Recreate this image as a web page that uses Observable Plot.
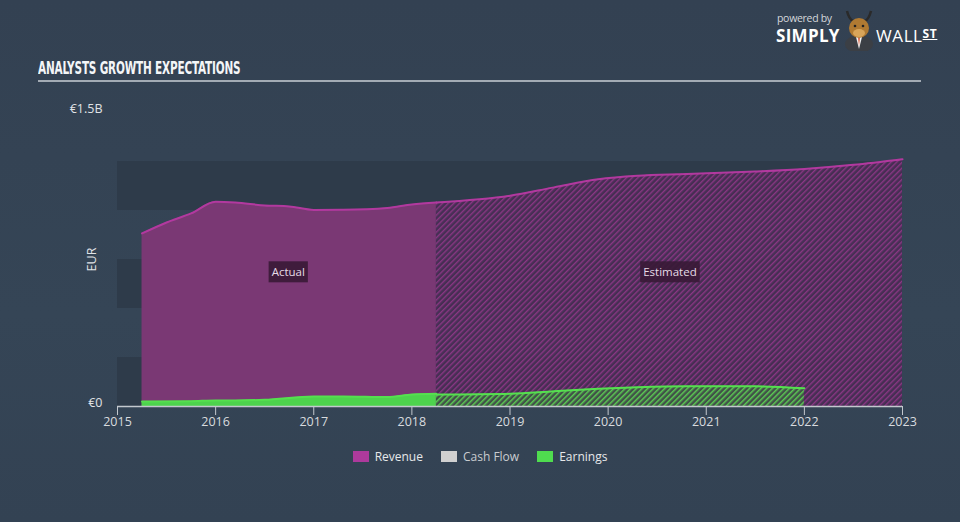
<!DOCTYPE html>
<html>
<head>
<meta charset="utf-8">
<script src="https://cdn.jsdelivr.net/npm/d3@7"></script>
<script src="https://cdn.jsdelivr.net/npm/@observablehq/plot@0.6"></script>
<style>
  html, body { margin: 0; padding: 0; background: #344354; }
  #wrap { position: relative; width: 960px; height: 522px; overflow: hidden;
          background: linear-gradient(180deg, #334152 0%, #354556 60%, #334253 100%);
          font-family: "Open Sans", "DejaVu Sans", sans-serif; }
  #title { position: absolute; left: 38px; top: 57px; color: #f4f6f8; white-space: nowrap;
           font-family: "DejaVu Sans Condensed", "Liberation Sans Narrow", sans-serif;
           font-weight: bold; font-size: 18.5px; letter-spacing: -0.3px; transform: scaleX(0.63); transform-origin: left center; }
  #rule { position: absolute; left: 38px; top: 80px; width: 883px; height: 2px; background: #a3abb4; }
  #chart { position: absolute; left: 0; top: 0; }
  #legend { position: absolute; top: 448px; left: 0; width: 960px; display: flex; justify-content: center;
            gap: 0; font-size: 12px; color: #e6e8ea; }
  .item { display: flex; align-items: center; margin: 0 9px; }
  .sw { width: 16px; height: 11px; margin-right: 6px; }
  #logo { position: absolute; left: 770px; top: 6px; width: 185px; height: 44px; color: #fff; }
  #logo .pb { position: absolute; left: 7px; top: 5px; font-size: 10.5px; color: #d5d8dc; letter-spacing: -0.3px; }
  #logo .s { position: absolute; left: 6px; top: 18px; font-size: 17px; font-weight: bold; letter-spacing: 0.3px; }
  #logo .w { position: absolute; left: 106px; top: 18px; font-size: 17px; letter-spacing: 0.6px; }
  #logo .st { text-decoration: underline; font-size: 12px; font-weight: bold; vertical-align: 4px; }
</style>
</head>
<body>
<div id="wrap">
  <div id="title">ANALYSTS GROWTH EXPECTATIONS</div>
  <div id="rule"></div>
  <div id="logo">
    <div class="pb">powered by</div>
    <div class="s">SIMPLY</div>
    <svg style="position:absolute;left:73px;top:3px" width="32" height="42" viewBox="0 0 32 42">
      <path d="M4 2 Q6 10 10 12 M28 2 Q26 10 22 12" stroke="#2a2a2a" stroke-width="2.5" fill="none"/>
      <ellipse cx="16" cy="35" rx="14" ry="9" fill="#3b3f45"/>
      <path d="M13 28 L16 40 L19 28 Z" fill="#f2f2f2"/>
      <path d="M15.2 29 L16 37 L16.8 29 Z" fill="#d9461e"/>
      <ellipse cx="16" cy="19" rx="10" ry="10" fill="#b07a32"/>
      <ellipse cx="16" cy="24" rx="6" ry="4" fill="#d9a55a"/>
      <circle cx="12" cy="17" r="1.3" fill="#222"/><circle cx="20" cy="17" r="1.3" fill="#222"/>
    </svg>
    <div class="w">WALL<span class="st">ST</span></div>
  </div>
  <div id="chart"></div>
  <div id="legend">
    <div class="item"><div class="sw" style="background:#ad3a9c"></div>Revenue</div>
    <div class="item" style="color:#c9ccd0"><div class="sw" style="background:#d0d0d0"></div>Cash Flow</div>
    <div class="item"><div class="sw" style="background:#4fdc4f"></div>Earnings</div>
  </div>
</div>
<script>
// ---- data (EUR billions) ----
const xTicks = [2015, 2016, 2017, 2018, 2019, 2020, 2021, 2022, 2023];
const yTicks = [0, 1.5];
const bandEdges = [0, 0.25, 0.5, 0.75, 1.0, 1.25];

const revenueActualYears = [2015.25, 2015.5, 2015.75, 2016.0, 2016.2, 2016.5, 2016.75, 2017.0, 2017.3, 2017.75, 2018.0, 2018.25];
const revenueActual      = [0.883, 0.939, 0.985, 1.045, 1.041, 1.026, 1.021, 1.003, 1.004, 1.013, 1.031, 1.041];

const revenueEstYears = [2018.25, 2019.0, 2019.45, 2019.9, 2020.3, 2020.8, 2021.5, 2022.0, 2022.5, 2023.0];
const revenueEst      = [1.041, 1.075, 1.118, 1.159, 1.177, 1.186, 1.199, 1.212, 1.233, 1.262];

const earningsActualYears = [2015.25, 2015.75, 2016.0, 2016.2, 2016.5, 2017.0, 2017.3, 2017.75, 2018.0, 2018.25];
const earningsActual      = [0.025, 0.027, 0.031, 0.031, 0.034, 0.051, 0.051, 0.048, 0.061, 0.065];

const earningsEstYears = [2018.25, 2019.0, 2019.45, 2019.9, 2020.3, 2020.8, 2021.5, 2022.0];
const earningsEst      = [0.061, 0.065, 0.078, 0.090, 0.098, 0.103, 0.103, 0.093];

const annotations = [
  {label: "Actual", x: 2016.74, y: 0.683},
  {label: "Estimated", x: 2020.63, y: 0.683}
];

const zip = (xs, ys) => xs.map((x, i) => ({x, y: ys[i]}));
const revA = zip(revenueActualYears, revenueActual);
const revE = zip(revenueEstYears, revenueEst);
const earA = zip(earningsActualYears, earningsActual);
const earE = zip(earningsEstYears, earningsEst);
const bands = [];
for (let i = 0; i < bandEdges.length - 1; i += 2) bands.push({y1: bandEdges[i], y2: bandEdges[i + 1]});

const REV = "#b2399f", REVFILL = "#7a3874", EAR = "#55e04f", EARFILL = "#4dd34d";
const curve = "monotone-x";

const chart = Plot.plot({
  width: 960,
  height: 440,
  marginLeft: 117,
  marginRight: 58,
  marginTop: 112,
  marginBottom: 34,
  style: {background: "transparent", color: "#d3d7db", fontSize: "12px", fontFamily: "'Open Sans', 'DejaVu Sans', sans-serif"},
  x: {domain: [2015, 2023]},
  y: {domain: [0, 1.5]},
  marks: [
    Plot.rect(bands, {x1: 2015, x2: 2023, y1: "y1", y2: "y2", fill: "#2e3b4a"}),
    Plot.areaY(revA, {x: "x", y: "y", fill: REVFILL, curve}),
    Plot.areaY(revE, {x: "x", y: "y", fill: "url(#hatchRev)", curve}),
    Plot.lineY(revA, {x: "x", y: "y", stroke: REV, strokeWidth: 2, curve}),
    Plot.lineY(revE, {x: "x", y: "y", stroke: REV, strokeWidth: 2, curve}),
    Plot.areaY(earA, {x: "x", y: "y", fill: EARFILL, curve}),
    Plot.areaY(earE, {x: "x", y: "y", fill: "url(#hatchEar)", curve}),
    Plot.lineY(earA, {x: "x", y: "y", stroke: EAR, strokeWidth: 2, curve}),
    Plot.lineY(earE, {x: "x", y: "y", stroke: EAR, strokeWidth: 2, curve}),
    Plot.ruleY([0], {stroke: "#c3c8ce", strokeWidth: 1.5}),
    Plot.axisX({ticks: xTicks, tickFormat: d => String(d), tickSize: 9, tickPadding: 2, stroke: "#c3c8ce", fill: "#d8dbdf", fontSize: 12.5, label: null}),
    Plot.axisY({ticks: yTicks, tickFormat: d => d === 0 ? "€0" : `€${d}B`, tickSize: 0, tickPadding: 15, dy: -4, fill: "#e0e3e6", fontSize: 12.5,
                label: "EUR", labelAnchor: "center", labelOffset: 30, labelArrow: "none"}),
    Plot.text(annotations, {x: "x", y: "y", text: "label", fill: "#e6dbe6", fontSize: 11.5, className: "anno"})
  ]
});
document.getElementById("chart").appendChild(chart);

// patterns for the estimated (hatched) areas
const svg = d3.select(chart);
const defs = svg.insert("defs", ":first-child");
function hatch(id, bg, bgOpacity, line, lineOpacity) {
  const p = defs.append("pattern").attr("id", id).attr("patternUnits", "userSpaceOnUse")
    .attr("width", 4).attr("height", 4).attr("patternTransform", "rotate(45)");
  p.append("rect").attr("width", 4).attr("height", 4).attr("fill", bg).attr("fill-opacity", bgOpacity);
  p.append("rect").attr("width", 1.4).attr("height", 4).attr("fill", line).attr("fill-opacity", lineOpacity);
}
hatch("hatchRev", "#4a2b55", 0.85, "#93378a", 0.9);
hatch("hatchEar", "#3c6a40", 0.6, "#56d64f", 0.95);

// dark boxes behind annotation labels
svg.selectAll("g.anno text").each(function () {
  const b = this.getBBox();
  d3.select(this.parentNode).insert("rect", () => this)
    .attr("transform", this.getAttribute("transform"))
    .attr("x", b.x - 3).attr("y", b.y - 3).attr("width", b.width + 6).attr("height", b.height + 6)
    .attr("fill", "#3a1a37").attr("fill-opacity", 0.92);
});
</script>
</body>
</html>
